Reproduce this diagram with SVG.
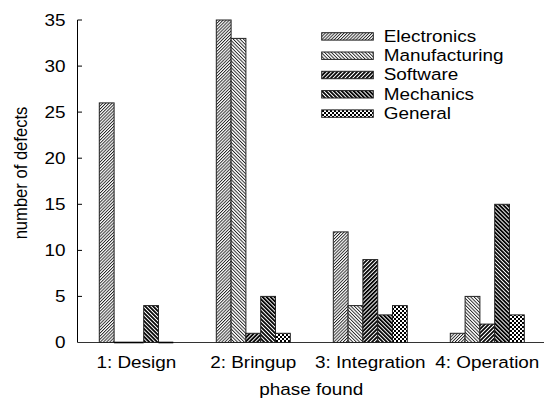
<svg xmlns="http://www.w3.org/2000/svg" width="544" height="402" viewBox="0 0 544 402">
  <style>
    text { font-family: "Liberation Sans", Arial, sans-serif; font-size: 16.6px; fill: #000; }
    .bar { stroke: #222; stroke-width: 1; }
    .zero { stroke: #000; stroke-width: 1.6; }
    .axis { stroke: #000; stroke-width: 1; fill: none; }
  </style>
  <defs>
    <!-- light forward hatch -->
    <pattern id="pElec" patternUnits="userSpaceOnUse" width="2.2" height="2.2" patternTransform="rotate(45)">
      <rect width="2.2" height="2.2" fill="#fff"/>
      <line x1="0.5" y1="0" x2="0.5" y2="2.2" stroke="#000" stroke-width="0.8"/>
    </pattern>
    <!-- light back hatch -->
    <pattern id="pManu" patternUnits="userSpaceOnUse" width="2.4" height="2.4" patternTransform="rotate(-45)">
      <rect width="2.4" height="2.4" fill="#fff"/>
      <line x1="0.5" y1="0" x2="0.5" y2="2.4" stroke="#000" stroke-width="0.8"/>
    </pattern>
    <!-- dark forward hatch -->
    <pattern id="pSoft" patternUnits="userSpaceOnUse" width="2.8" height="2.8" patternTransform="rotate(45)">
      <rect width="2.8" height="2.8" fill="#fff"/>
      <line x1="0.9" y1="0" x2="0.9" y2="2.8" stroke="#000" stroke-width="1.8"/>
    </pattern>
    <!-- dark back hatch -->
    <pattern id="pMech" patternUnits="userSpaceOnUse" width="2.8" height="2.8" patternTransform="rotate(-45)">
      <rect width="2.8" height="2.8" fill="#fff"/>
      <line x1="0.9" y1="0" x2="0.9" y2="2.8" stroke="#000" stroke-width="1.8"/>
    </pattern>
    <!-- checkerboard -->
    <pattern id="pGen" patternUnits="userSpaceOnUse" width="4" height="4">
      <rect width="4" height="4" fill="#fff"/>
      <rect x="0" y="0" width="2" height="2" fill="#000"/>
      <rect x="2" y="2" width="2" height="2" fill="#000"/>
    </pattern>
  </defs>

  <!-- axes -->
  <g id="axes">
    <path class="axis" d="M77.5,20 V342.5"/>
    <line x1="77.5" y1="342.5" x2="544" y2="342.5" stroke="#333" stroke-width="1"/>
    <path class="axis" d="M77.5,296.4 H82 M77.5,250.4 H82 M77.5,204.3 H82 M77.5,158.2 H82 M77.5,112.1 H82 M77.5,66.1 H82 M77.5,20 H82"/>
  </g>

  <!-- tick labels and titles (glyphs widened horizontally) -->
  <g id="labels" transform="scale(1.14 1)">
    <g text-anchor="end">
      <text x="57.5" y="348.5">0</text>
      <text x="57.5" y="302.4">5</text>
      <text x="57.5" y="256.4">10</text>
      <text x="57.5" y="210.3">15</text>
      <text x="57.5" y="164.2">20</text>
      <text x="57.5" y="118.1">25</text>
      <text x="57.5" y="72.1">30</text>
      <text x="57.5" y="26">35</text>
    </g>
    <g text-anchor="middle">
      <text x="119.6" y="367.7">1: Design</text>
      <text x="222.2" y="367.7">2: Bringup</text>
      <text x="324.8" y="367.7">3: Integration</text>
      <text x="427.5" y="367.7">4: Operation</text>
      <text x="273.1" y="395.3">phase found</text>
    </g>
  </g>
  <text transform="translate(26.7,173) scale(1.14 1) rotate(-90)" text-anchor="middle">number of defects</text>

  <!-- bars -->
  <g id="group-design">
    <rect class="bar" x="99.3" y="102.9" width="14.8" height="239.6" fill="url(#pElec)"/>
    <line class="zero" x1="114.1" y1="342.5" x2="143.7" y2="342.5"/>
    <rect class="bar" x="143.7" y="305.6" width="14.8" height="36.9" fill="url(#pMech)"/>
    <line class="zero" x1="158.5" y1="342.5" x2="173.3" y2="342.5"/>
  </g>
  <g id="group-bringup">
    <rect class="bar" x="216.3" y="20" width="14.8" height="322.5" fill="url(#pElec)"/>
    <rect class="bar" x="231.1" y="38.4" width="14.8" height="304.1" fill="url(#pManu)"/>
    <rect class="bar" x="245.9" y="333.3" width="14.8" height="9.2" fill="url(#pSoft)"/>
    <rect class="bar" x="260.7" y="296.4" width="14.8" height="46.1" fill="url(#pMech)"/>
    <rect class="bar" x="275.5" y="333.3" width="14.8" height="9.2" fill="url(#pGen)"/>
  </g>
  <g id="group-integration">
    <rect class="bar" x="333.3" y="231.9" width="14.8" height="110.6" fill="url(#pElec)"/>
    <rect class="bar" x="348.1" y="305.6" width="14.8" height="36.9" fill="url(#pManu)"/>
    <rect class="bar" x="362.9" y="259.6" width="14.8" height="82.9" fill="url(#pSoft)"/>
    <rect class="bar" x="377.7" y="314.9" width="14.8" height="27.6" fill="url(#pMech)"/>
    <rect class="bar" x="392.5" y="305.6" width="14.8" height="36.9" fill="url(#pGen)"/>
  </g>
  <g id="group-operation">
    <rect class="bar" x="450.3" y="333.3" width="14.8" height="9.2" fill="url(#pElec)"/>
    <rect class="bar" x="465.1" y="296.4" width="14.8" height="46.1" fill="url(#pManu)"/>
    <rect class="bar" x="479.9" y="324.1" width="14.8" height="18.4" fill="url(#pSoft)"/>
    <rect class="bar" x="494.7" y="204.3" width="14.8" height="138.2" fill="url(#pMech)"/>
    <rect class="bar" x="509.5" y="314.9" width="14.8" height="27.6" fill="url(#pGen)"/>
  </g>

  <!-- legend -->
  <g id="legend">
    <rect class="bar" x="321.7" y="32.7" width="51.6" height="7.4" fill="url(#pElec)"/>
    <rect class="bar" x="321.7" y="52" width="51.6" height="7.4" fill="url(#pManu)"/>
    <rect class="bar" x="321.7" y="71.3" width="51.6" height="7.4" fill="url(#pSoft)"/>
    <rect class="bar" x="321.7" y="90.6" width="51.6" height="7.4" fill="url(#pMech)"/>
    <rect class="bar" x="321.7" y="109.9" width="51.6" height="7.4" fill="url(#pGen)"/>
    <g transform="scale(1.14 1)">
      <text x="336.6" y="41.7">Electronics</text>
      <text x="336.6" y="61">Manufacturing</text>
      <text x="336.6" y="80.3">Software</text>
      <text x="336.6" y="99.6">Mechanics</text>
      <text x="336.6" y="118.9">General</text>
    </g>
  </g>
</svg>
